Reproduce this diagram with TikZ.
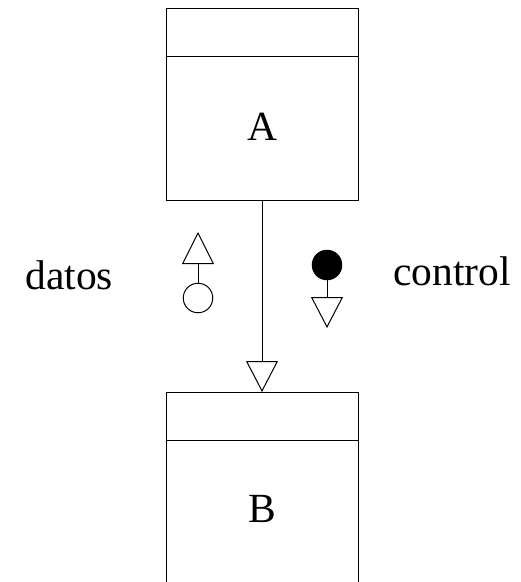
\documentclass[tikz,border=0pt]{standalone}
\usepackage{fontspec}
\setmainfont{Liberation Serif}
\usetikzlibrary{arrows.meta}

\begin{document}
\begin{tikzpicture}[x=1pt, y=-1pt, line width=1pt, line join=miter]
    \tikzset{
        box/.style={draw, minimum width=192pt, minimum height=#1, inner sep=0pt, outer sep=0pt},
        big/.style={font=\fontsize{41.5}{48}\selectfont, inner sep=0pt},
        opentip/.style={-{Triangle[open, length=#1, width=32pt]}}
    }
    \useasboundingbox (0,0) rectangle (521,582);

    % the two modules
    \node[box=192pt] (boxA) at (262,104) {};
    \node[box=194pt] (boxB) at (262,489) {};
    \draw (166,56) -- (358,56);
    \draw (166,440) -- (358,440);
    \node[big] (labA) at (262,127) {A};
    \node[big] (labB) at (262,509) {B};

    % call
    \draw[opentip=31pt] (boxA.south) -- (boxB.north);

    % couples
    \node[draw, circle, minimum size=29.5pt, inner sep=0pt] (datosCirc) at (198,298) {};
    \coordinate (datosTip) at (198,232);
    \draw[opentip=32pt] (datosCirc.north) -- (datosTip);

    \node[draw, fill=black, circle, minimum size=29.5pt, inner sep=0pt] (controlCirc) at (327,265) {};
    \coordinate (controlTip) at (327,328);
    \draw[opentip=31pt] (controlCirc.south) -- (controlTip);

    \node[big, anchor=base west] (datos) at (25,289) {datos};
    \node[big, anchor=base west] (control) at (393,285) {control};
\end{tikzpicture}
\end{document}
